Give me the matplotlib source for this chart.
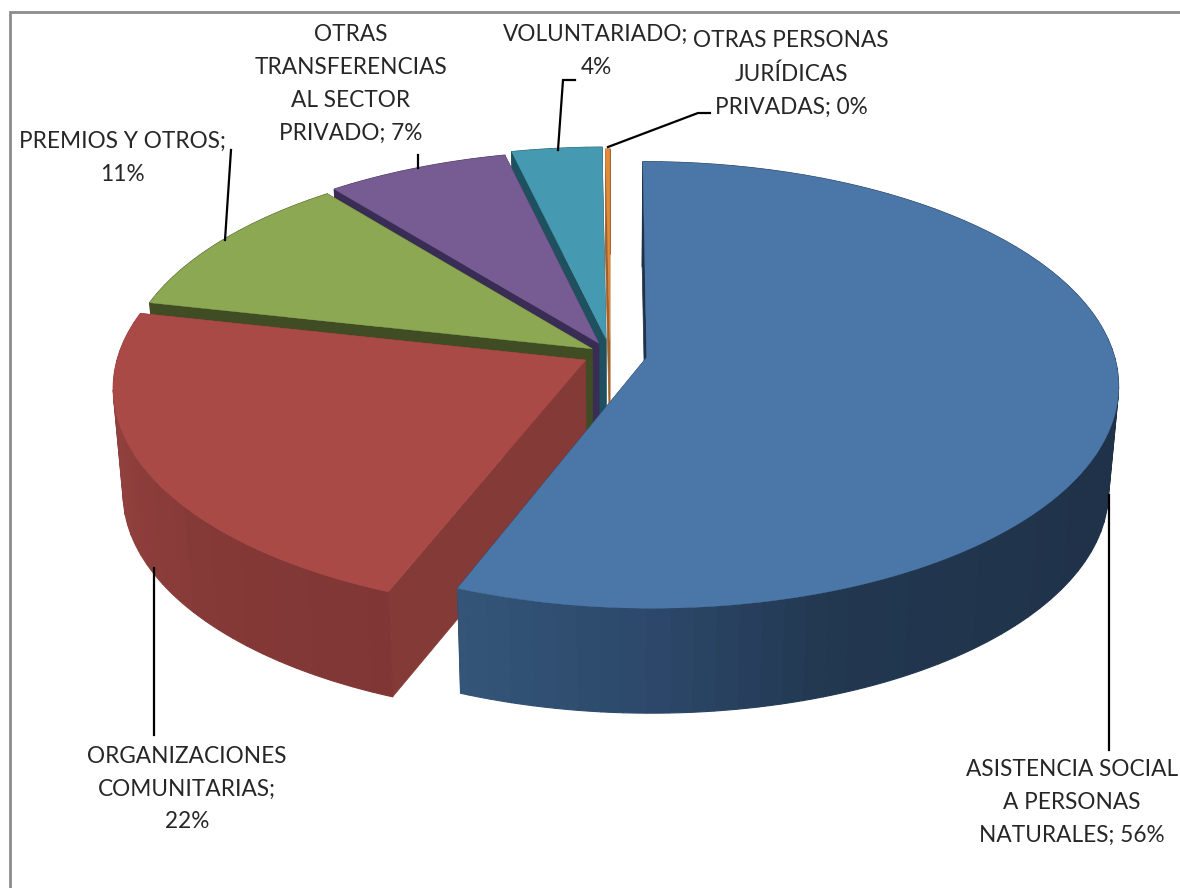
import numpy as np
import matplotlib
matplotlib.use('Agg')
import matplotlib.pyplot as plt
from matplotlib.collections import PolyCollection
from matplotlib.colors import to_rgb

categories = ['ASISTENCIA SOCIAL\nA PERSONAS\nNATURALES', 'ORGANIZACIONES\nCOMUNITARIAS',
              'PREMIOS Y OTROS', 'OTRAS\nTRANSFERENCIAS\nAL SECTOR\nPRIVADO',
              'VOLUNTARIADO', 'OTRAS PERSONAS\nJURÍDICAS\nPRIVADAS']
shares = [56.0, 22.49, 10.76, 7.08, 3.5, 0.17]
percent_labels = ['56%', '22%', '11%', '7%', '4%', '0%']

top_colors = ['#4a76a8', '#aa4a47', '#8ca852', '#775c93', '#4599b0', '#e08a3c']
radial_colors = ['#1f3249', '#843a37', '#3f4c24', '#3a2d55', '#1f5060', '#a0602a']
wall_stops = [
    ([90, 120, 160, 180, 202], ['#1f3249', '#1f3249', '#223850', '#2c486a', '#345679']),
    ([200, 225, 250, 285], ['#7f3634', '#843937', '#8f3f3c', '#9d4744']),
    ([280, 325], ['#3f4c24', '#3f4c24']),
    ([320, 346], ['#3a2d55', '#3a2d55']),
    ([345, 360], ['#1f5060', '#1f5060']),
    ([358, 360], ['#a0602a', '#a0602a']),
]
explode = [0.08, 0.059, 0.045, 0.055, 0.07, 0.06]

CX, CY = 610, 354
RX, RY = 467, 219
PERSP_X, PERSP_Y = 0.12, 0.1236
DEPTH = 105
BOTTOM_SCALE = 0.98


def project(u, v, bottom=False):
    x = CX + RX * u / (1 + PERSP_X * v)
    y = CY - RY * v / (1 + PERSP_Y * v)
    if bottom:
        x = CX + (x - CX) * BOTTOM_SCALE
        y = y + DEPTH
    return np.column_stack([x, y])


def main():
    fig = plt.figure(figsize=(11.8, 8.88), dpi=100)
    ax = fig.add_axes([0, 0, 1, 1])
    ax.set_xlim(0, 1180)
    ax.set_ylim(888, 0)
    ax.axis('off')

    # chart frame
    ax.plot([1180, 9.5, 9.5], [12, 12, 888], color='#8c8c8c', lw=2, solid_joinstyle='miter')

    edges = np.radians(np.concatenate([[0], np.cumsum(shares)]) * 3.6)

    # back slices first, front ones painted over them
    for i in [5, 4, 3, 2, 1, 0]:
        start, end = edges[i], edges[i + 1]
        mid = (start + end) / 2
        ou, ov = explode[i] * np.sin(mid), explode[i] * np.cos(mid)
        t = np.linspace(start, end, max(int(np.degrees(end - start) * 2), 3))
        arc_u, arc_v = ou + np.sin(t), ov + np.cos(t)

        apex_top = project(np.array([ou]), np.array([ov]))
        apex_bot = project(np.array([ou]), np.array([ov]), True)
        arc_top = project(arc_u, arc_v)
        arc_bot = project(arc_u, arc_v, True)

        for k in [0, -1]:
            wall = np.vstack([apex_top, arc_top[k], arc_bot[k], apex_bot])
            ax.fill(wall[:, 0], wall[:, 1], color=radial_colors[i], lw=0.5)

        stops, cols = wall_stops[i]
        rgb = np.array([to_rgb(c) for c in cols])
        shade = np.column_stack([np.interp(np.degrees(t), stops, rgb[:, j]) for j in range(3)])

        # shading strips, the ones furthest back drawn first
        step = 5
        strips = []
        for k in range(0, len(t) - 1, step):
            e = min(k + step, len(t) - 1)
            strips.append((arc_v[(k + e) // 2],
                           np.vstack([arc_top[k:e + 1], arc_bot[k:e + 1][::-1]]),
                           shade[(k + e) // 2]))
        strips.sort(key=lambda s: -s[0])
        ax.add_collection(PolyCollection([s[1] for s in strips], facecolors=[s[2] for s in strips],
                                         edgecolors=[s[2] for s in strips], linewidths=0.8))

        poly = np.vstack([apex_top, arc_top])
        ax.fill(poly[:, 0], poly[:, 1], color=top_colors[i], lw=0.3)

    # leader lines
    leaders = [
        ([1109, 1109], [495, 750]),
        ([154, 154], [568, 735]),
        ([225, 231], [240, 150]),
        ([418, 418], [168, 155]),
        ([558, 563, 575], [150, 80, 80]),
        ([608, 698, 710], [147, 113, 113]),
    ]
    for lx, ly in leaders:
        ax.plot(lx, ly, color='black', lw=1.6, solid_joinstyle='miter')

    label_pos = [(1072, 802), (187, 789), (122, 158), (351, 84), (596, 51), (791, 74)]
    for (x, y), name, pct in zip(label_pos, categories, percent_labels):
        sep = ';\n' if name in ('PREMIOS Y OTROS', 'VOLUNTARIADO', 'ORGANIZACIONES\nCOMUNITARIAS') else '; '
        ax.text(x, y, name + sep + pct, ha='center', va='center', ma='center',
                fontsize=16.3, family='Lato', color='#262626', linespacing=1.7)

    fig.savefig('out.png', dpi=100)


if __name__ == '__main__':
    main()
